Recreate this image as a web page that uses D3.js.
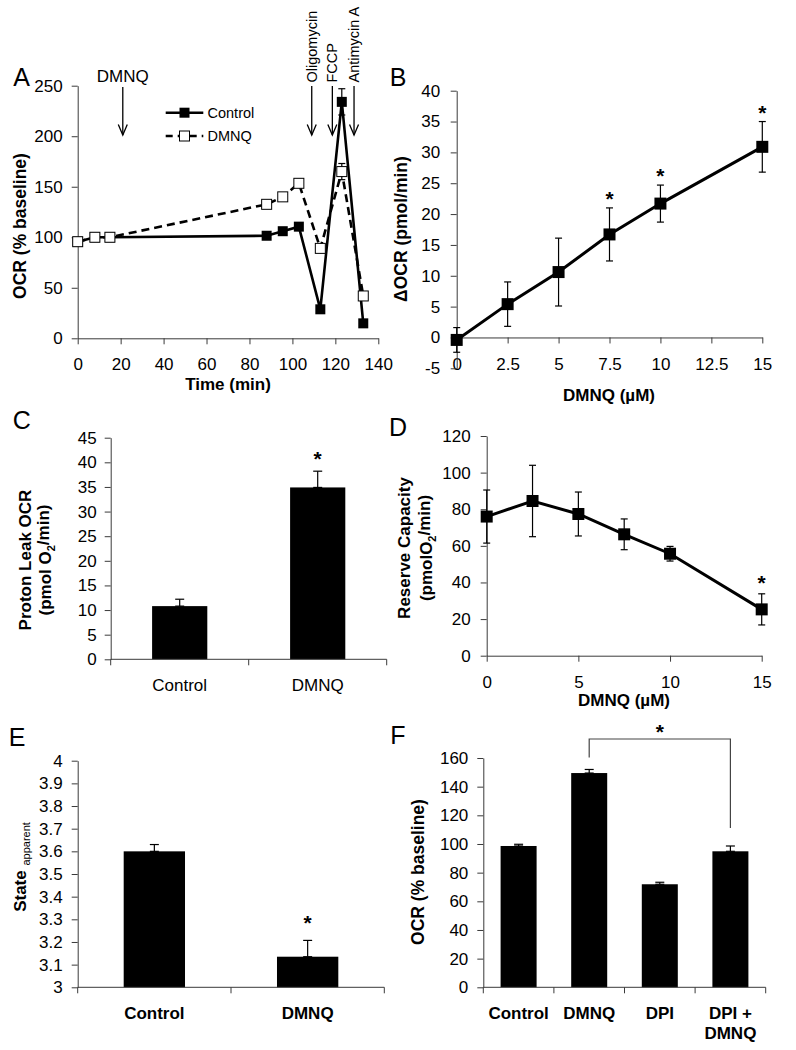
<!DOCTYPE html>
<html><head><meta charset="utf-8">
<script src="https://cdn.jsdelivr.net/npm/d3@7"></script>
<style>
body{margin:0;background:#fff;}
svg text{font-family:"Liberation Sans",Arial,Helvetica,sans-serif;fill:#000;}
</style></head><body>
<svg id="c" width="796" height="1050"></svg>
<script>
// ---------- data ----------
// Panel A
const aTime = [0, 8, 15, 88, 95.5, 103, 113, 123, 133];
const aControl = [95.6, 100, 100, 101.5, 106, 110.5, 28.7, 234, 14.8];
const aControlErr = [0, 0, 0, 1.5, 1.5, 2, 1.5, 13, 1];
const aDMNQ = [95.6, 100, 100, 132.6, 140, 153.4, 89, 165, 41.9];
const aDMNQErr = [0, 0, 0, 2, 3, 4, 2, 8, 2];
const aArrowLabels = ["DMNQ", "Oligomycin", "FCCP", "Antimycin A"];
const aArrowTimes = [21, 109, 118.6, 128.7];
const aXTicks = [0, 20, 40, 60, 80, 100, 120, 140];
const aYTicks = [0, 50, 100, 150, 200, 250];
// Panel B
const bConc = [0, 2.5, 5, 7.5, 10, 15];
const bMean = [-0.4, 5.4, 10.6, 16.7, 21.7, 30.9];
const bErr = [2, 3.6, 5.5, 4.3, 3, 4.1];
const bStar = [false, false, false, true, true, true];
const bXTicks = [0, 2.5, 5, 7.5, 10, 12.5, 15];
const bYTicks = [-5, 0, 5, 10, 15, 20, 25, 30, 35, 40];
// Panel C
const cCats = ["Control", "DMNQ"];
const cMean = [10.8, 34.9];
const cErr = [1.4, 3.3];
const cStar = [false, true];
const cYTicks = [0, 5, 10, 15, 20, 25, 30, 35, 40, 45];
// Panel D
const dConc = [0, 2.5, 5, 7.5, 10, 15];
const dMean = [76, 84.5, 77.4, 66.3, 55.7, 25.3];
const dErr = [14.5, 19.5, 12, 8.4, 4, 8.5];
const dStar = [false, false, false, false, false, true];
const dXTicks = [0, 5, 10, 15];
const dYTicks = [0, 20, 40, 60, 80, 100, 120];
// Panel E
const eCats = ["Control", "DMNQ"];
const eMean = [3.6, 3.135];
const eErr = [0.03, 0.072];
const eStar = [false, true];
const eYTicks = [3, 3.1, 3.2, 3.3, 3.4, 3.5, 3.6, 3.7, 3.8, 3.9, 4];
// Panel F
const fCats = ["Control", "DMNQ", "DPI", "DPI + DMNQ"];
const fCatLines = [["Control"], ["DMNQ"], ["DPI"], ["DPI +", "DMNQ"]];
const fMean = [98.6, 149.5, 71.9, 94.9];
const fErr = [1.2, 2.5, 1.4, 3.7];
const fYTicks = [0, 20, 40, 60, 80, 100, 120, 140, 160];

// ---------- helpers ----------
const svg = d3.select("#c");
svg.append("rect").attr("width", 796).attr("height", 1050).attr("fill", "#fff");
const AX = "#3a3a3a";
const TICKFS = 17;

function styleAxis(g, fs) {
  g.attr("font-size", fs);
  g.selectAll("path,line").attr("stroke", AX).attr("stroke-width", 1);
  g.selectAll("text").attr("fill", "#000");
}
function leftAxis(scale, x, ticks, fmt, pad) {
  const g = svg.append("g").attr("transform", `translate(${x},0)`)
    .call(d3.axisLeft(scale).tickValues(ticks).tickFormat(fmt || (d => String(d)))
      .tickSize(6).tickSizeOuter(0).tickPadding(pad));
  styleAxis(g, TICKFS);
  return g;
}
function bottomAxis(scale, y, ticks, fmt, pad) {
  const g = svg.append("g").attr("transform", `translate(0,${y})`)
    .call(d3.axisBottom(scale).tickValues(ticks).tickFormat(fmt || (d => String(d)))
      .tickSize(6).tickSizeOuter(0).tickPadding(pad));
  styleAxis(g, TICKFS);
  return g;
}
function bandAxis(band, y) {
  const r = band.range();
  const g = svg.append("g");
  g.append("line").attr("x1", r[0]).attr("x2", r[1]).attr("y1", y).attr("y2", y)
    .attr("stroke", AX);
  const bounds = [r[0]].concat(band.domain().map(d => band(d) + band.bandwidth() / 2 + band.step() / 2));
  g.selectAll("line.t").data(bounds).join("line").attr("class", "t")
    .attr("x1", d => d).attr("x2", d => d).attr("y1", y).attr("y2", y + 6).attr("stroke", AX);
}
function errBar(g, x, y1, y2, cap) {
  g.append("line").attr("x1", x).attr("x2", x).attr("y1", y1).attr("y2", y2)
    .attr("stroke", "#000").attr("stroke-width", 1.2);
  g.append("line").attr("x1", x - cap).attr("x2", x + cap).attr("y1", y1).attr("y2", y1)
    .attr("stroke", "#000").attr("stroke-width", 1.2);
  if (y2 !== y1) g.append("line").attr("x1", x - cap).attr("x2", x + cap).attr("y1", y2).attr("y2", y2)
    .attr("stroke", "#000").attr("stroke-width", 1.2);
}
function star(x, yCenter) {
  svg.append("text").attr("x", x).attr("y", yCenter + 11).attr("text-anchor", "middle")
    .attr("font-size", 21).attr("font-weight", "bold").text("*");
}
function panelLabel(t, x, y) {
  svg.append("text").attr("x", x).attr("y", y).attr("text-anchor", "middle")
    .attr("dy", "0.35em").attr("font-size", 25).text(t);
}
function yTitle(lines, x0, dx, yc, fs) {
  lines.forEach((ln, i) => {
    const t = svg.append("text").attr("transform", `translate(${x0 + i * dx},${yc}) rotate(-90)`)
      .attr("text-anchor", "middle").attr("dy", "0.35em").attr("font-size", fs).attr("font-weight", "bold");
    ln.forEach(part => {
      const ts = t.append("tspan").text(part.t);
      if (part.sub) ts.attr("font-size", fs * 0.62).attr("dy", "0.3em").attr("font-weight", part.bold ? "bold" : "normal");
      if (part.after) ts.attr("dy", "-0.3em");
    });
  });
}

// ---------- Panel A ----------
(function () {
  const x = d3.scaleLinear().domain([0, 140]).range([77.7, 378.3]);
  const y = d3.scaleLinear().domain([0, 250]).range([338.3, 85.7]);
  bottomAxis(x, y(0), aXTicks, null, 14);
  leftAxis(y, x(0), aYTicks, null, 9);
  const g = svg.append("g");
  const idx = d3.range(aTime.length);
  const lc = d3.line().x(i => x(aTime[i])).y(i => y(aControl[i]));
  const ld = d3.line().x(i => x(aTime[i])).y(i => y(aDMNQ[i]));
  g.append("path").attr("d", lc(idx)).attr("fill", "none").attr("stroke", "#000").attr("stroke-width", 2.6);
  g.append("path").attr("d", ld(idx)).attr("fill", "none").attr("stroke", "#000").attr("stroke-width", 2.6)
    .attr("stroke-dasharray", "8,5");
  idx.forEach(i => { if (aControlErr[i] > 0) errBar(g, x(aTime[i]), y(aControl[i] + aControlErr[i]), y(aControl[i] - aControlErr[i]), 3.5); });
  idx.forEach(i => { if (aDMNQErr[i] > 0) errBar(g, x(aTime[i]), y(aDMNQ[i] + aDMNQErr[i]), y(aDMNQ[i] - aDMNQErr[i]), 3.5); });
  g.selectAll("rect.c").data(idx).join("rect").attr("class", "c")
    .attr("x", i => x(aTime[i]) - 5).attr("y", i => y(aControl[i]) - 5).attr("width", 10).attr("height", 10)
    .attr("fill", "#000");
  g.selectAll("rect.d").data(idx).join("rect").attr("class", "d")
    .attr("x", i => x(aTime[i]) - 5).attr("y", i => y(aDMNQ[i]) - 5).attr("width", 10).attr("height", 10)
    .attr("fill", "#fff").attr("stroke", "#000").attr("stroke-width", 1);
  // legend
  const L = svg.append("g");
  L.append("line").attr("x1", 165.7).attr("x2", 203.3).attr("y1", 112.7).attr("y2", 112.7).attr("stroke", "#000").attr("stroke-width", 2.6);
  L.append("rect").attr("x", 179.5).attr("y", 107.7).attr("width", 10).attr("height", 10).attr("fill", "#000");
  L.append("text").attr("x", 207.5).attr("y", 112.7).attr("dy", "0.35em").attr("font-size", 14.5).text("Control");
  L.append("line").attr("x1", 165.7).attr("x2", 203.3).attr("y1", 136).attr("y2", 136).attr("stroke", "#000").attr("stroke-width", 2.6).attr("stroke-dasharray", "7,5");
  L.append("rect").attr("x", 179.5).attr("y", 131).attr("width", 10).attr("height", 10).attr("fill", "#fff").attr("stroke", "#000");
  L.append("text").attr("x", 207.5).attr("y", 136).attr("dy", "0.35em").attr("font-size", 14.5).text("DMNQ");
  // arrows
  aArrowTimes.forEach((t, i) => {
    const ax = x(t);
    const top = i === 0 ? 87 : 86;
    svg.append("line").attr("x1", ax).attr("x2", ax).attr("y1", top).attr("y2", 135).attr("stroke", "#000").attr("stroke-width", 1.3);
    svg.append("path").attr("d", `M${ax - 4.5},124.5 L${ax},135 L${ax + 4.5},124.5`).attr("fill", "none").attr("stroke", "#000").attr("stroke-width", 1.3);
    if (i === 0) {
      svg.append("text").attr("x", ax).attr("y", 81.5).attr("text-anchor", "middle").attr("font-size", 17).text(aArrowLabels[i]);
    } else {
      svg.append("text").attr("transform", `translate(${ax},82.5) rotate(-90)`).attr("dy", "0.35em")
        .attr("font-size", 14.5).text(aArrowLabels[i]);
    }
  });
  yTitle([[{ t: "OCR (% baseline)" }]], 20, 0, 226, 17.5);
  svg.append("text").attr("x", 228).attr("y", 384).attr("dy", "0.35em").attr("text-anchor", "middle")
    .attr("font-size", 17).attr("font-weight", "bold").text("Time (min)");
  panelLabel("A", 21.7, 77);
})();

// ---------- Panel B ----------
(function () {
  const x = d3.scaleLinear().domain([0, 15]).range([456.7, 762.3]);
  const y = d3.scaleLinear().domain([-5, 40]).range([368.3, 90.7]);
  bottomAxis(x, y(0), bXTicks, null, 14);
  leftAxis(y, x(0), bYTicks, null, 10.5);
  const g = svg.append("g");
  const idx = d3.range(bConc.length);
  idx.forEach(i => errBar(g, x(bConc[i]), y(bMean[i] + bErr[i]), y(bMean[i] - bErr[i]), 3.5));
  g.append("path").attr("d", d3.line().x(i => x(bConc[i])).y(i => y(bMean[i]))(idx))
    .attr("fill", "none").attr("stroke", "#000").attr("stroke-width", 3);
  g.selectAll("rect").data(idx).join("rect")
    .attr("x", i => x(bConc[i]) - 6).attr("y", i => y(bMean[i]) - 6).attr("width", 12).attr("height", 12).attr("fill", "#000");
  idx.forEach(i => { if (bStar[i]) star(x(bConc[i]), y(bMean[i] + bErr[i]) - 13); });
  yTitle([[{ t: "ΔOCR (pmol/min)" }]], 401, 0, 229, 17.5);
  svg.append("text").attr("x", 609).attr("y", 395).attr("dy", "0.35em").attr("text-anchor", "middle")
    .attr("font-size", 17).attr("font-weight", "bold").text("DMNQ (µM)");
  panelLabel("B", 398, 77);
})();

// ---------- Panel C ----------
(function () {
  const x = d3.scaleBand().domain(cCats).range([110.7, 386.7]).paddingInner(0.6).paddingOuter(0.3);
  const y = d3.scaleLinear().domain([0, 45]).range([659.3, 437.7]);
  const g = svg.append("g");
  cCats.forEach((c, i) => errBar(g, x(c) + x.bandwidth() / 2, y(cMean[i] + cErr[i]), y(cMean[i]), 4.5));
  g.selectAll("rect").data(cCats).join("rect")
    .attr("x", c => x(c)).attr("width", x.bandwidth())
    .attr("y", (c, i) => y(cMean[i])).attr("height", (c, i) => y(0) - y(cMean[i])).attr("fill", "#000");
  leftAxis(y, 110.7, cYTicks, null, 8);
  bandAxis(x, y(0));
  cCats.forEach((c, i) => {
    svg.append("text").attr("x", x(c) + x.bandwidth() / 2).attr("y", 685).attr("dy", "0.35em")
      .attr("text-anchor", "middle").attr("font-size", 17).text(c);
    if (cStar[i]) star(x(c) + x.bandwidth() / 2, y(cMean[i] + cErr[i]) - 16);
  });
  const t1 = svg.append("text").attr("transform", "translate(25,560) rotate(-90)").attr("text-anchor", "middle")
    .attr("dy", "0.35em").attr("font-size", 17).attr("font-weight", "bold").text("Proton Leak OCR");
  const t2 = svg.append("text").attr("transform", "translate(45,560) rotate(-90)").attr("text-anchor", "middle")
    .attr("dy", "0.35em").attr("font-size", 17).attr("font-weight", "bold");
  t2.append("tspan").text("(pmol O");
  t2.append("tspan").text("2").attr("font-size", 11).attr("dy", "0.35em");
  t2.append("tspan").text("/min)").attr("dy", "-0.35em");
  panelLabel("C", 21.7, 420);
})();

// ---------- Panel D ----------
(function () {
  const x = d3.scaleLinear().domain([0, 15]).range([486.7, 761.7]);
  const y = d3.scaleLinear().domain([0, 120]).range([655.7, 436]);
  bottomAxis(x, y(0), dXTicks, null, 14);
  leftAxis(y, x(0), dYTicks, null, 10);
  const g = svg.append("g");
  const idx = d3.range(dConc.length);
  idx.forEach(i => errBar(g, x(dConc[i]), y(dMean[i] + dErr[i]), y(dMean[i] - dErr[i]), 3.5));
  g.append("path").attr("d", d3.line().x(i => x(dConc[i])).y(i => y(dMean[i]))(idx))
    .attr("fill", "none").attr("stroke", "#000").attr("stroke-width", 3);
  g.selectAll("rect").data(idx).join("rect")
    .attr("x", i => x(dConc[i]) - 6).attr("y", i => y(dMean[i]) - 6).attr("width", 12).attr("height", 12).attr("fill", "#000");
  idx.forEach(i => { if (dStar[i]) star(x(dConc[i]), y(dMean[i] + dErr[i]) - 15); });
  svg.append("text").attr("transform", "translate(404,548) rotate(-90)").attr("text-anchor", "middle")
    .attr("dy", "0.35em").attr("font-size", 17).attr("font-weight", "bold").text("Reserve Capacity");
  const t2 = svg.append("text").attr("transform", "translate(426,548) rotate(-90)").attr("text-anchor", "middle")
    .attr("dy", "0.35em").attr("font-size", 17).attr("font-weight", "bold");
  t2.append("tspan").text("(pmolO");
  t2.append("tspan").text("2").attr("font-size", 11).attr("dy", "0.35em");
  t2.append("tspan").text("/min)").attr("dy", "-0.35em");
  svg.append("text").attr("x", 624).attr("y", 700).attr("dy", "0.35em").attr("text-anchor", "middle")
    .attr("font-size", 17).attr("font-weight", "bold").text("DMNQ (µM)");
  panelLabel("D", 398, 427);
})();

// ---------- Panel E ----------
(function () {
  const x = d3.scaleBand().domain(eCats).range([77.7, 384.3]).paddingInner(0.6).paddingOuter(0.3);
  const y = d3.scaleLinear().domain([3, 4]).range([987.3, 760.7]);
  const g = svg.append("g");
  eCats.forEach((c, i) => errBar(g, x(c) + x.bandwidth() / 2, y(eMean[i] + eErr[i]), y(eMean[i]), 4.5));
  g.selectAll("rect").data(eCats).join("rect")
    .attr("x", c => x(c)).attr("width", x.bandwidth())
    .attr("y", (c, i) => y(eMean[i])).attr("height", (c, i) => y(3) - y(eMean[i])).attr("fill", "#000");
  leftAxis(y, 77.7, eYTicks, d => (d === 3 || d === 4) ? String(d) : d.toFixed(1), 9);
  bandAxis(x, y(3));
  eCats.forEach((c, i) => {
    svg.append("text").attr("x", x(c) + x.bandwidth() / 2).attr("y", 1013).attr("dy", "0.35em")
      .attr("text-anchor", "middle").attr("font-size", 17).attr("font-weight", "bold").text(c);
    if (eStar[i]) star(x(c) + x.bandwidth() / 2, y(eMean[i] + eErr[i]) - 21);
  });
  const t = svg.append("text").attr("transform", "translate(20,867) rotate(-90)").attr("text-anchor", "middle")
    .attr("dy", "0.35em").attr("font-size", 17).attr("font-weight", "bold");
  t.append("tspan").text("State ");
  t.append("tspan").text("apparent").attr("font-size", 11).attr("font-weight", "normal").attr("dy", "0.35em");
  panelLabel("E", 17, 737);
})();

// ---------- Panel F ----------
(function () {
  const x = d3.scaleBand().domain(fCats).range([483.3, 765.7]).paddingInner(0.49).paddingOuter(0.245);
  const y = d3.scaleLinear().domain([0, 160]).range([987.3, 758]);
  const g = svg.append("g");
  fCats.forEach((c, i) => errBar(g, x(c) + x.bandwidth() / 2, y(fMean[i] + fErr[i]), y(fMean[i]), 4.5));
  g.selectAll("rect").data(fCats).join("rect")
    .attr("x", c => x(c)).attr("width", x.bandwidth())
    .attr("y", (c, i) => y(fMean[i])).attr("height", (c, i) => y(0) - y(fMean[i])).attr("fill", "#000");
  leftAxis(y, 483.3, fYTicks, null, 9);
  bandAxis(x, y(0));
  fCats.forEach((c, i) => {
    fCatLines[i].forEach((ln, j) => {
      svg.append("text").attr("x", x(c) + x.bandwidth() / 2).attr("y", 1013 + j * 20).attr("dy", "0.35em")
        .attr("text-anchor", "middle").attr("font-size", 17).attr("font-weight", "bold").text(ln);
    });
  });
  // significance bracket DMNQ vs DPI + DMNQ
  const xa = x("DMNQ") + x.bandwidth() / 2, xb = x("DPI + DMNQ") + x.bandwidth() / 2;
  svg.append("path").attr("d", `M${xa},${y(fMean[1] + fErr[1]) - 12} L${xa},739 L${xb},739 L${xb},${y(fMean[3] + fErr[3]) - 18}`)
    .attr("fill", "none").attr("stroke", "#444").attr("stroke-width", 1.2);
  star((xa + xb) / 2, 728);
  yTitle([[{ t: "OCR (% baseline)" }]], 418, 0, 872, 17.5);
  panelLabel("F", 398, 735);
})();
</script>
</body></html>
